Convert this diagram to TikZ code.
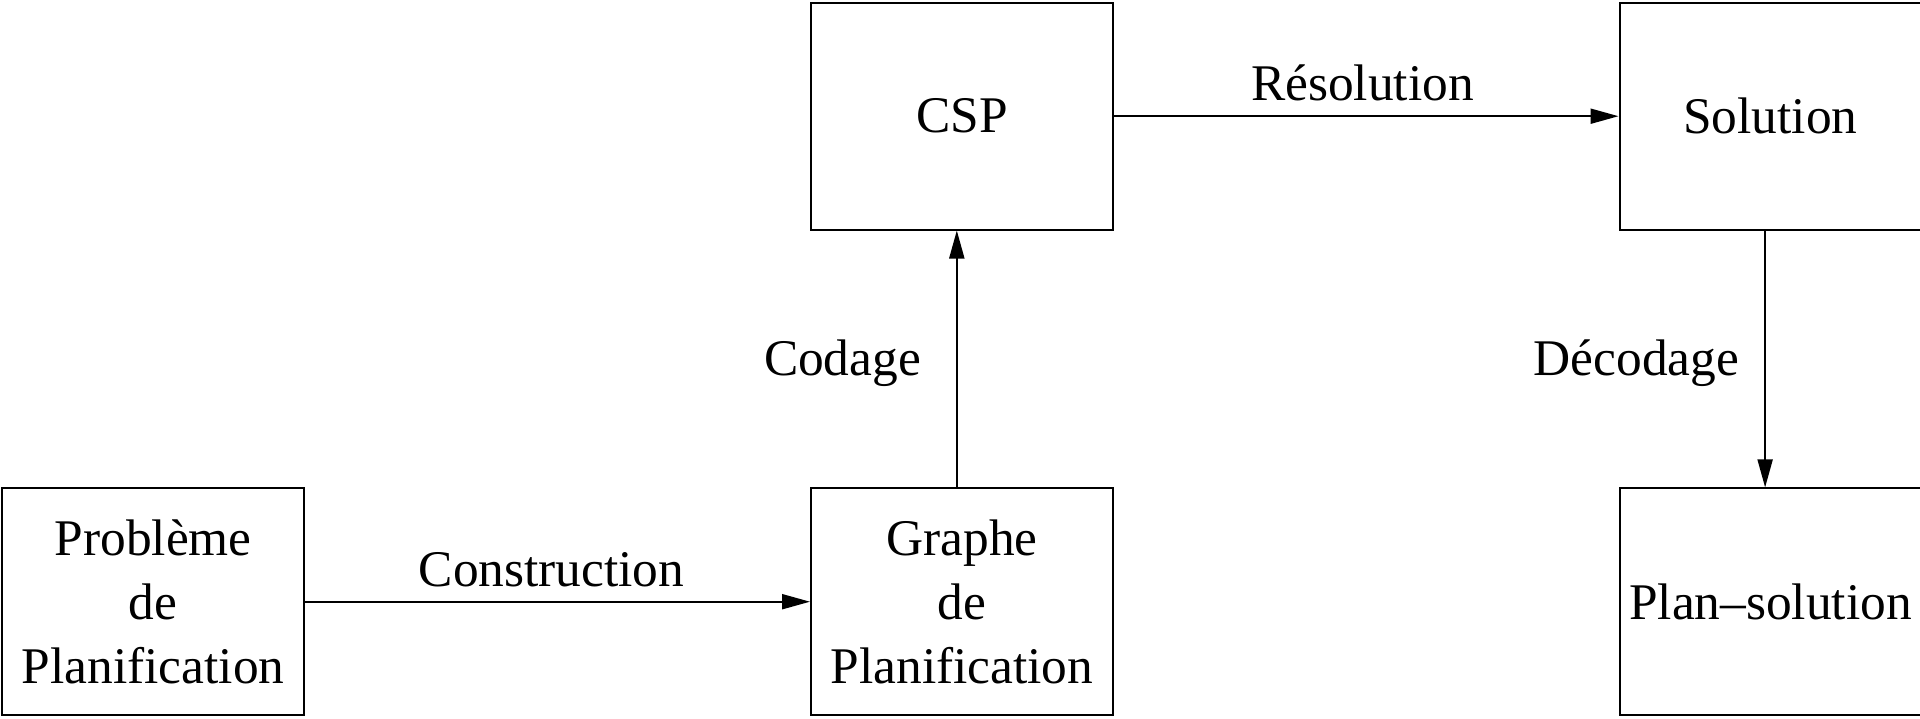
\documentclass[tikz,border=0pt]{standalone}
\usepackage{fontspec}
\setmainfont{Liberation Serif}
\usetikzlibrary{arrows.meta}
\begin{document}
\begin{tikzpicture}[x=0.5pt,y=-0.5pt,
  box/.style={draw, line width=1pt, minimum width=151pt, minimum height=113.3pt,
    inner sep=0pt, align=center, font=\fontsize{25.7pt}{32pt}\selectfont},
  lbl/.style={anchor=base, inner sep=0pt, font=\fontsize{25.7pt}{32pt}\selectfont},
  flow/.style={line width=1pt, -{Triangle[length=14pt,width=7.5pt]}}]
\useasboundingbox (0,0) rectangle (1920,718);
% boxes
\node[box] (prob)  at (153.2,601.7)  {Problème\\de\\Planification};
\node[box] (graph) at (962,601.7)    {Graphe\\de\\Planification};
\node[box] (csp)   at (962,116.2)    {CSP};
\node[box] (sol)   at (1770.5,116.2) {Solution};
\node[box] (plan)  at (1770.5,601.7) {Plan\textendash solution};
% connectors
\draw[flow] (prob.east) -- (graph.west);
\draw[flow] ([xshift=-2.6pt]graph.north) -- ([xshift=-2.6pt]csp.south);
\draw[flow] (csp.east) -- (sol.west);
\draw[flow] ([xshift=-2.7pt]sol.south) -- ([xshift=-2.7pt]plan.north);
% connector labels
\node[lbl] (lcons) at (551.5,586)  {Construction};
\node[lbl] (lcod)  at (842.5,375)  {Codage};
\node[lbl] (lres)  at (1362.5,100) {Résolution};
\node[lbl] (ldec)  at (1636.5,375) {Décodage};
\end{tikzpicture}
\end{document}
